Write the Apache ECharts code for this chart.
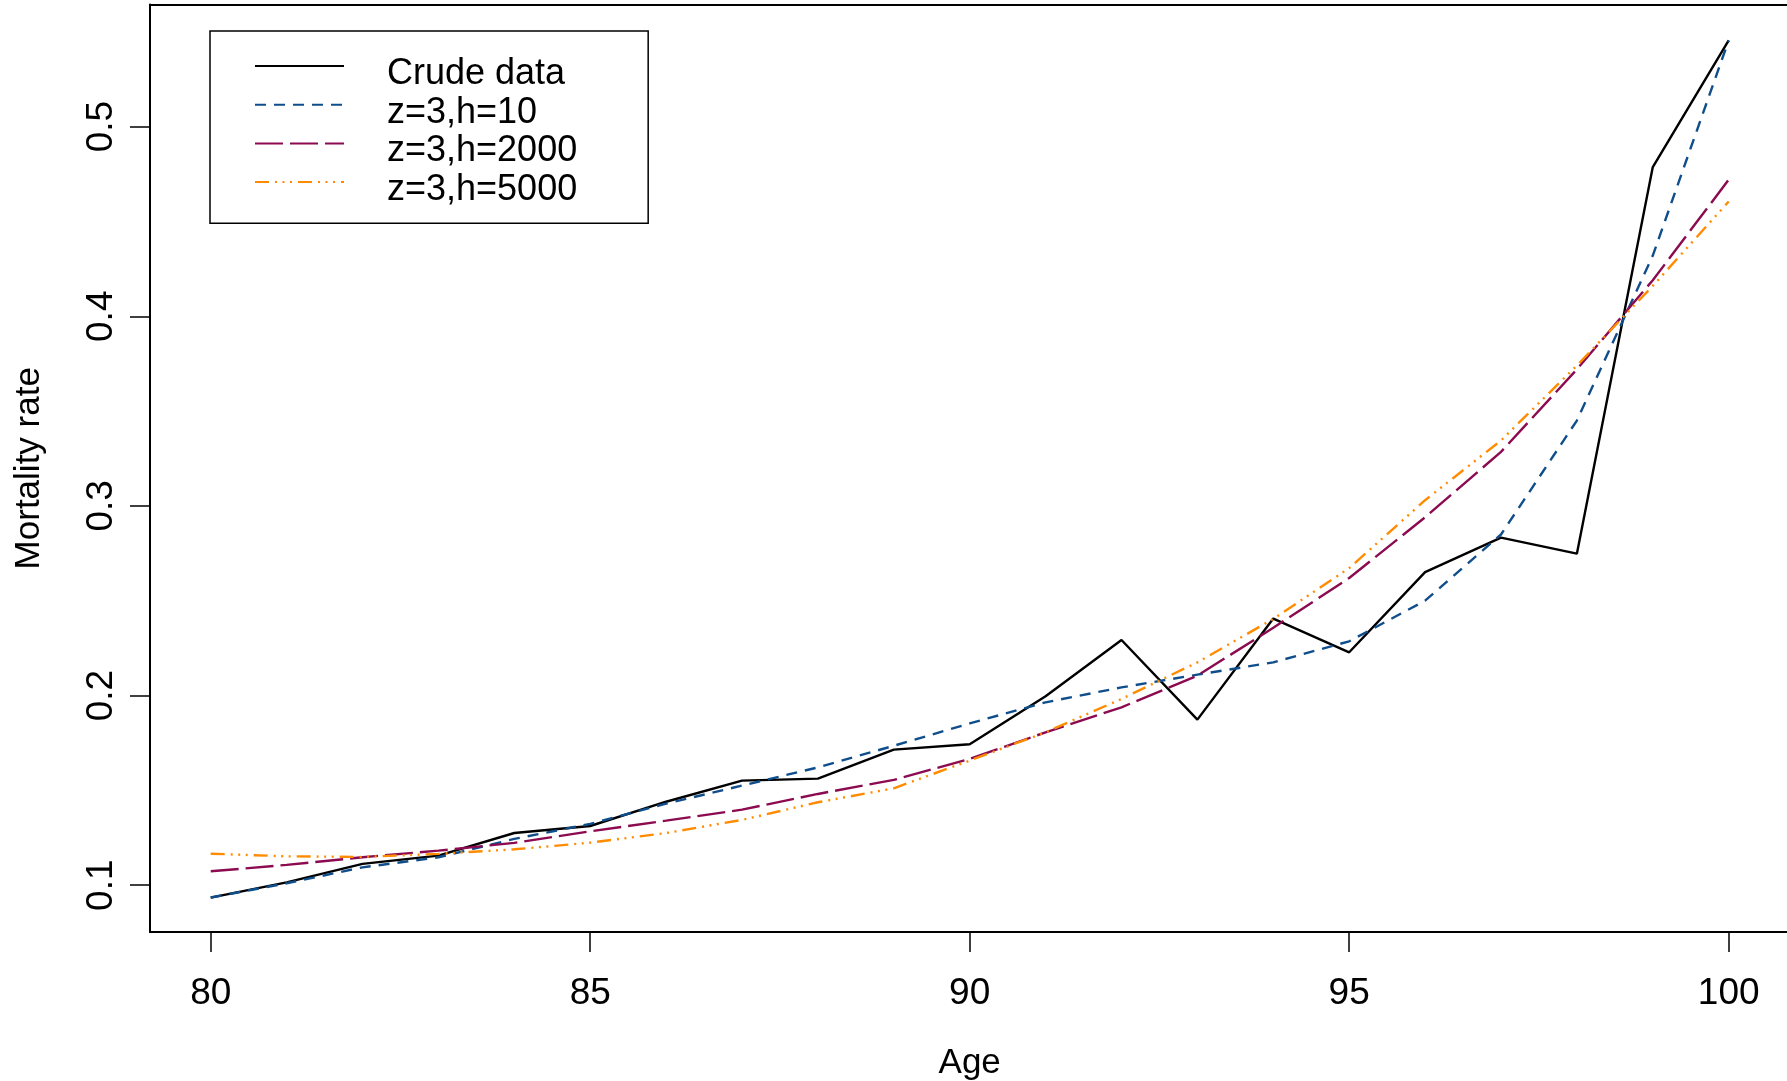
<!DOCTYPE html>
<html>
<head>
<meta charset="utf-8">
<script src="https://cdn.jsdelivr.net/npm/echarts@6/dist/echarts.min.js"></script>
<style>
html,body{margin:0;padding:0;background:#fff;}
#chart{width:1787px;height:1081px;}
</style>
</head>
<body>
<div id="chart"></div>
<script>
const ages = [80,81,82,83,84,85,86,87,88,89,90,91,92,93,94,95,96,97,98,99,100];
const crude = [0.0934,0.1015,0.1112,0.1156,0.1275,0.1312,0.1440,0.1551,0.1562,0.1715,0.1743,0.1996,0.2293,0.1873,0.2406,0.2228,0.2651,0.2833,0.2748,0.4787,0.5455];
const h10 = [0.0935,0.1010,0.1094,0.1147,0.1244,0.1323,0.1430,0.1525,0.1621,0.1735,0.1853,0.1964,0.2043,0.2110,0.2175,0.2286,0.2500,0.2849,0.3450,0.4320,0.5455];
const h2000 = [0.1073,0.1107,0.1147,0.1182,0.1223,0.1284,0.1340,0.1398,0.1481,0.1555,0.1666,0.1806,0.1938,0.2105,0.2357,0.2620,0.2940,0.3285,0.3720,0.4190,0.4720];
const h5000 = [0.1166,0.1152,0.1149,0.1165,0.1189,0.1224,0.1275,0.1344,0.1437,0.1511,0.1657,0.1806,0.1982,0.2175,0.2404,0.2672,0.3030,0.3345,0.3740,0.4160,0.4605];
const seriesNames = ['Crude data','z=3,h=10','z=3,h=2000','z=3,h=5000'];
const xTicks = [80,85,90,95,100];
const yTicks = [0.1,0.2,0.3,0.4,0.5];

const FONT = 'Liberation Sans, Arial, Helvetica, sans-serif';
const pairs = arr => ages.map((a,i)=>[a,arr[i]]);

const chart = echarts.init(document.getElementById('chart'), null, {renderer:'canvas'});
const styles = [
  {color:'#000000', type:'solid'},
  {color:'#104E8B', type:[11,8]},
  {color:'#8B0A50', type:[28,7]},
  {color:'#FF8C00', type:[14,6,2,5.5,2,5.5,2,6]}
];
const datasets = [crude,h10,h2000,h5000];
const XMIN = 79.2, XMAX = 100.8;

const legendBase = {
  orient:'vertical', left:210, top:31,
  itemWidth:89, itemHeight:14, itemGap:0,
  selectedMode:false,
  data:seriesNames
};

chart.setOption({
  animation:false,
  backgroundColor:'#ffffff',
  grid:{left:150, right:-2.4, top:4.5, bottom:149, show:false, containLabel:false, outerBoundsMode:'none'},
  legend:[
    Object.assign({}, legendBase, {
      z:4,
      padding:[23.65,71,13.85,44],
      borderColor:'#000', borderWidth:1.5, backgroundColor:'#fff',
      itemStyle:{opacity:0},
      lineStyle:{opacity:0, color:'rgba(0,0,0,0)'},
      textStyle:{fontFamily:FONT, fontSize:36, lineHeight:38.7, color:'#000', padding:[0,0,0,38]}
    }),
    Object.assign({}, legendBase, {
      z:6,
      padding:[15.65,71,21.6,44],
      borderWidth:0, backgroundColor:'rgba(0,0,0,0)',
      itemStyle:{opacity:0},
      textStyle:{fontFamily:FONT, fontSize:36, lineHeight:38.7, color:'rgba(0,0,0,0)', padding:[0,0,0,38]}
    })
  ],
  xAxis:[{
    type:'value', min:XMIN, max:XMAX, position:'bottom',
    name:'Age', nameLocation:'middle', nameGap:113.5,
    nameTextStyle:{fontFamily:FONT, fontSize:35, color:'#000'},
    axisLine:{show:true, onZero:false, lineStyle:{color:'#000', width:2}},
    axisTick:{show:true, length:20, inside:false, customValues:xTicks, lineStyle:{color:'#000', width:1.5}},
    axisLabel:{show:true, margin:43, customValues:xTicks, fontFamily:FONT, fontSize:37, color:'#000'},
    splitLine:{show:false}
  },{
    type:'value', min:XMIN, max:XMAX, position:'top',
    axisLine:{show:true, onZero:false, lineStyle:{color:'#000', width:2}},
    axisTick:{show:false}, axisLabel:{show:false}, splitLine:{show:false}
  }],
  yAxis:{
    type:'value', min:0.0753, max:0.5644,
    name:'Mortality rate', nameLocation:'middle', nameGap:103, nameRotate:90,
    nameTextStyle:{fontFamily:FONT, fontSize:35, color:'#000'},
    axisLine:{show:true, onZero:false, lineStyle:{color:'#000', width:2}},
    axisTick:{show:true, length:20, inside:false, customValues:yTicks, lineStyle:{color:'#000', width:1.5}},
    axisLabel:{show:true, margin:30, rotate:90, customValues:yTicks, fontFamily:FONT, fontSize:37, color:'#000',
      formatter: v => v.toFixed(1)},
    splitLine:{show:false}
  },
  series: datasets.map((d,i)=>({
    name:seriesNames[i], type:'line', data:pairs(d), xAxisIndex:0,
    showSymbol:false, symbol:'none', smooth:false,
    lineStyle:{color:styles[i].color, width:2.4, type:styles[i].type},
    itemStyle:{color:styles[i].color},
    emphasis:{disabled:true}
  }))
});
</script>
</body>
</html>
